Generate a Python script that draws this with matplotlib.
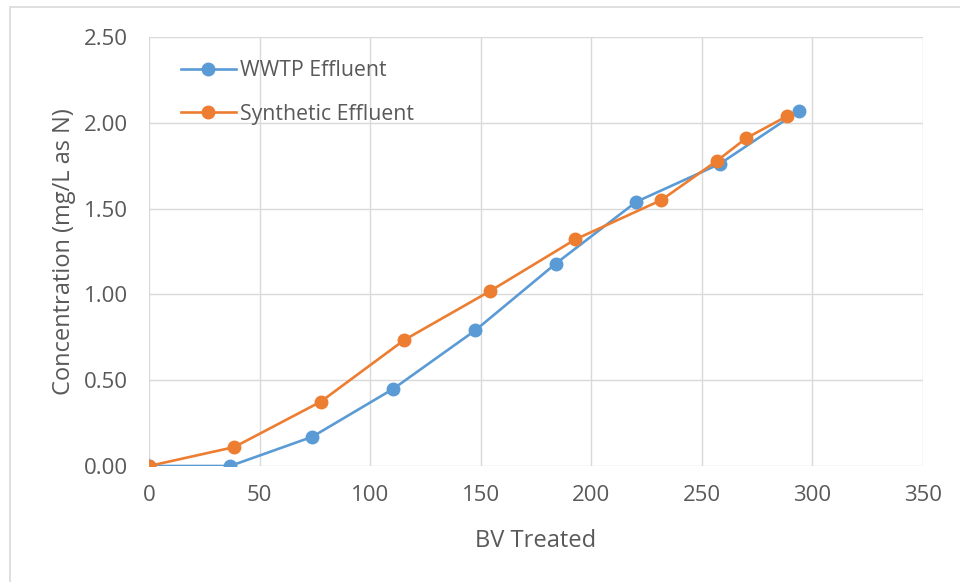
import matplotlib.pyplot as plt
from matplotlib.patches import Rectangle
from matplotlib.ticker import FormatStrFormatter

# WWTP effluent series
wwtp_bv = [0, 36.7, 73.8, 110.5, 147.5, 184, 220.4, 258, 294]
wwtp_conc = [0.0, 0.0, 0.17, 0.45, 0.79, 1.18, 1.54, 1.76, 2.07]

# Synthetic effluent series
syn_bv = [0, 38.5, 77.7, 115.5, 154.3, 192.7, 231.7, 257, 270, 288.7]
syn_conc = [0.0, 0.11, 0.375, 0.735, 1.02, 1.32, 1.55, 1.78, 1.91, 2.04]

x_ticks = [0, 50, 100, 150, 200, 250, 300, 350]
y_ticks = [0.0, 0.5, 1.0, 1.5, 2.0, 2.5]

BLUE = "#5B9BD5"
ORANGE = "#ED7D31"
GRID = "#D9D9D9"
TEXT = "#595959"

plt.rcParams['font.family'] = ['Open Sans', 'DejaVu Sans']

fig = plt.figure(figsize=(9.6, 5.82), dpi=100)
fig.patches.append(Rectangle((10 / 960, -0.1), 1.2, (582 - 7) / 582 + 0.1,
                             transform=fig.transFigure, fill=False,
                             edgecolor="#D9D9D9", linewidth=1.2))

ax = fig.add_axes([149 / 960, 1 - 466 / 582, (923 - 149) / 960, (466 - 37) / 582])

ax.plot(wwtp_bv, wwtp_conc, '-o', color=BLUE, lw=1.9, ms=9, label="WWTP Effluent", zorder=3)
ax.plot(syn_bv, syn_conc, '-o', color=ORANGE, lw=1.9, ms=9, label="Synthetic Effluent", zorder=4)

ax.set_xlim(0, 350)
ax.set_ylim(0, 2.5)
ax.set_xticks(x_ticks)
ax.set_yticks(y_ticks)
ax.yaxis.set_major_formatter(FormatStrFormatter('%.2f'))
ax.grid(True, color=GRID, linewidth=1)
ax.set_axisbelow(True)
for s in ax.spines.values():
    s.set_visible(False)
ax.tick_params(length=0, labelsize=16, colors=TEXT)
ax.tick_params(axis='y', pad=15)
ax.tick_params(axis='x', pad=14)

ax.set_xlabel("BV Treated", fontsize=17, color=TEXT, labelpad=16)
ax.set_ylabel("Concentration (mg/L as N)", fontsize=17, color=TEXT, labelpad=6)

leg = ax.legend(loc='upper left', bbox_to_anchor=(0.016, 0.99), frameon=False,
                fontsize=15.3, labelspacing=1.05, handlelength=2.6, handletextpad=0.2)
for t in leg.get_texts():
    t.set_color(TEXT)

fig.savefig("out.png", dpi=100)
